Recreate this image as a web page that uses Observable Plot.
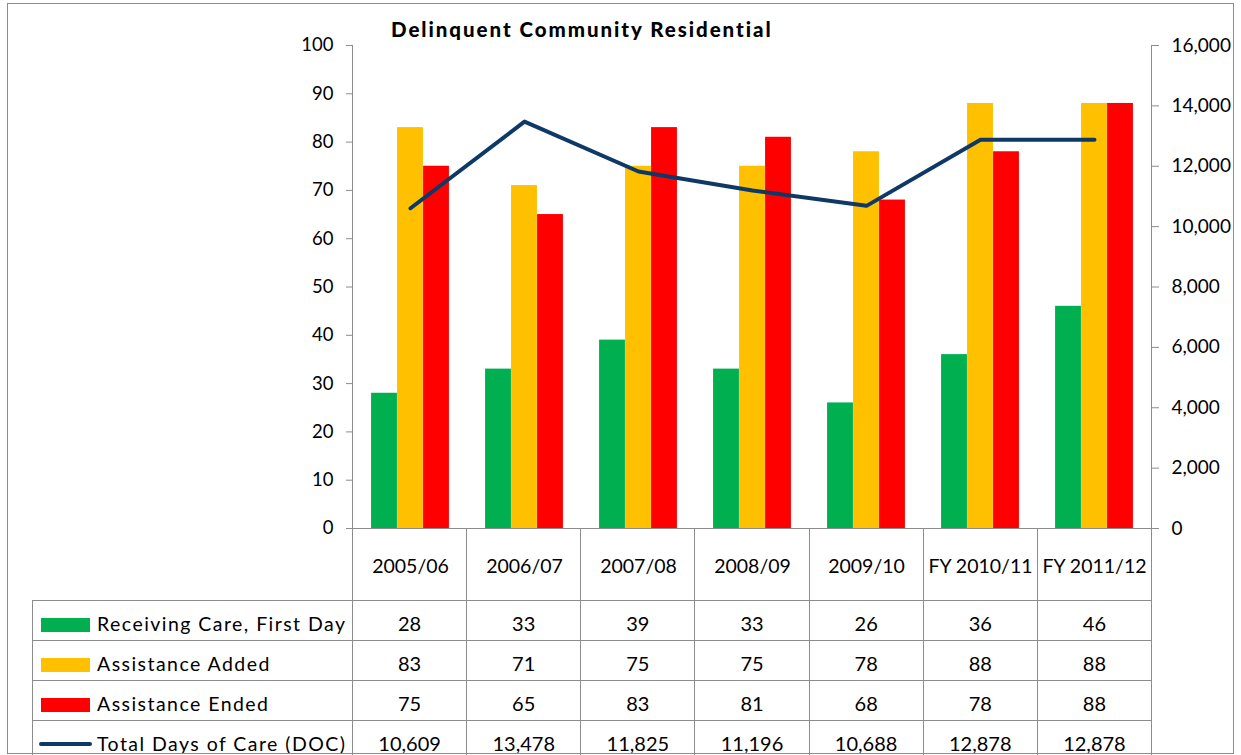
<!DOCTYPE html>
<html><head><meta charset="utf-8">
<script src="https://cdn.jsdelivr.net/npm/d3@7"></script>
<script src="https://cdn.jsdelivr.net/npm/@observablehq/plot@0.6"></script>
<style>
body{margin:0;background:#fff;font-family:Lato,"Liberation Sans",Arial,sans-serif;}
#wrap{position:relative;width:1241px;height:755px;overflow:hidden;background:#fff;}
#frame{position:absolute;left:7px;top:3px;width:1227px;height:751px;border:1.5px solid #8c8c8c;box-sizing:border-box;pointer-events:none;}
#title{position:absolute;left:391px;top:17px;font-weight:900;font-size:20.5px;color:#000;white-space:nowrap;}
#chart{position:absolute;left:0;top:0;}
#tbl{position:absolute;left:32px;top:528px;border-collapse:collapse;table-layout:fixed;font-size:20px;color:#000;}
#tbl td{border:1px solid #8c8c8c;padding:0;text-align:center;height:40px;white-space:nowrap;overflow:hidden;box-sizing:border-box;padding-top:5px;}
#tbl tr.hdr td{height:72px;}
#tbl tr.hdr td.blank{border-top:none;border-left:none;}
#tbl td.lab{text-align:left;padding-left:8px;font-size:19.5px;}
.key{display:inline-block;width:49px;height:14px;margin-right:7px;vertical-align:-1px;}
.lkey{display:inline-block;width:53px;height:3.5px;margin-right:5px;border-radius:2px;vertical-align:5px;margin-left:-2px;}
</style></head>
<body><div id="wrap"><div id="chart"></div><div id="title"><span id="ttext">Delinquent Community Residential</span></div><table id="tbl"></table><div id="frame"></div></div>
<script>
const years = ["2005/06","2006/07","2007/08","2008/09","2009/10","FY 2010/11","FY 2011/12"];
const receiving = [28,33,39,33,26,36,46];
const added = [83,71,75,75,78,88,88];
const ended = [75,65,83,81,68,78,88];
const totalDays = [10609,13478,11825,11196,10688,12878,12878];
const leftTicks = [0,10,20,30,40,50,60,70,80,90,100];
const rightTicks = [0,2000,4000,6000,8000,10000,12000,14000,16000];
const leftMax = 100, rightMax = 16000;

const barSeries = [
  {name:"Receiving Care, First Day", values:receiving, color:"#00B050"},
  {name:"Assistance Added", values:added, color:"#FFC000"},
  {name:"Assistance Ended", values:ended, color:"#FF0000"}
];
const lineSeries = {name:"Total Days of Care (DOC)", values:totalDays, color:"#0E3966"};

const W = 1241, H = 600, ML = 352, MR = 1241 - 1151, MT = 45, MB = 72;
const bw = (W - ML - MR) / years.length;
const barW = 26;
const off = (bw - barSeries.length * barW) / 2;
const grey = "#8c8c8c";
const fmt = d3.format(",");
const toLeft = v => v * leftMax / rightMax;

const marks = [];
barSeries.forEach((s, i) => {
  marks.push(Plot.barY(years.map((y, j) => ({year:y, value:s.values[j]})), {
    x:"year", y:"value", fill:s.color,
    insetLeft: off + i * barW, insetRight: bw - off - (i + 1) * barW
  }));
});
marks.push(Plot.line(years.map((y, j) => ({year:y, v:lineSeries.values[j]})), {
  x:"year", y:d => toLeft(d.v), stroke:lineSeries.color, strokeWidth:4, strokeLinejoin:"round", strokeLinecap:"round"
}));
marks.push(Plot.frame({anchor:"left", stroke:grey}));
marks.push(Plot.frame({anchor:"right", stroke:grey}));
marks.push(Plot.frame({anchor:"bottom", stroke:grey}));
marks.push(Plot.axisY(leftTicks, {anchor:"left", tickSize:6, tickPadding:13, stroke:grey, fill:"#000", fontSize:18.5, label:null}));
marks.push(Plot.axisY(rightTicks.map(toLeft), {anchor:"right", tickSize:7, tickPadding:13, stroke:grey, fill:"#000", fontSize:19, label:null,
  tickFormat: d => fmt(Math.round(d * rightMax / leftMax))}));
marks.push(Plot.axisX({tickSize:0, tickPadding:31, fill:"#000", fontSize:19.5, label:null}));

const chart = Plot.plot({
  width:W, height:H, marginLeft:ML, marginRight:MR, marginTop:MT, marginBottom:MB,
  style:{fontFamily:"Lato, 'Liberation Sans', Arial, sans-serif", background:"transparent", color:"#000", overflow:"visible"},
  x:{type:"band", domain:years, padding:0, axis:null},
  y:{domain:[0, leftMax], axis:null},
  marks
});
document.getElementById("chart").appendChild(chart);

// data table
const tbl = document.getElementById("tbl");
const cg = document.createElement("colgroup");
cg.innerHTML = `<col style="width:320px">` + years.map(() => `<col style="width:${bw}px">`).join("");
tbl.appendChild(cg);
const hdr = document.createElement("tr");
hdr.className = "hdr";
hdr.innerHTML = `<td class="blank"></td>` + years.map(() => `<td></td>`).join("");
tbl.appendChild(hdr);
barSeries.forEach(s => {
  const tr = document.createElement("tr");
  tr.innerHTML = `<td class="lab"><span class="key" style="background:${s.color}"></span><span class="lt">${s.name}</span></td>` +
    s.values.map(v => `<td>${fmt(v)}</td>`).join("");
  tbl.appendChild(tr);
});
const trl = document.createElement("tr");
trl.innerHTML = `<td class="lab"><span class="lkey" style="background:${lineSeries.color}"></span><span class="lt">${lineSeries.name}</span></td>` +
  lineSeries.values.map(v => `<td>${fmt(v)}</td>`).join("");
tbl.appendChild(trl);

// spread text to the reference's measured widths (letter spacing)
function spreadFor(el, target) {
  el.style.letterSpacing = "0px";
  const w = el.getBoundingClientRect().width;
  return (target - w) / (el.textContent.length - 1);
}
function fitAll() {
  const t = document.getElementById("ttext");
  t.style.letterSpacing = spreadFor(t, 380) + "px";
  const labs = [...document.querySelectorAll(".lt")];
  const ls = spreadFor(labs[0], 248);
  labs.forEach(l => l.style.letterSpacing = ls + "px");
}
fitAll();
if (document.fonts && document.fonts.ready) document.fonts.ready.then(fitAll);
</script></body></html>
